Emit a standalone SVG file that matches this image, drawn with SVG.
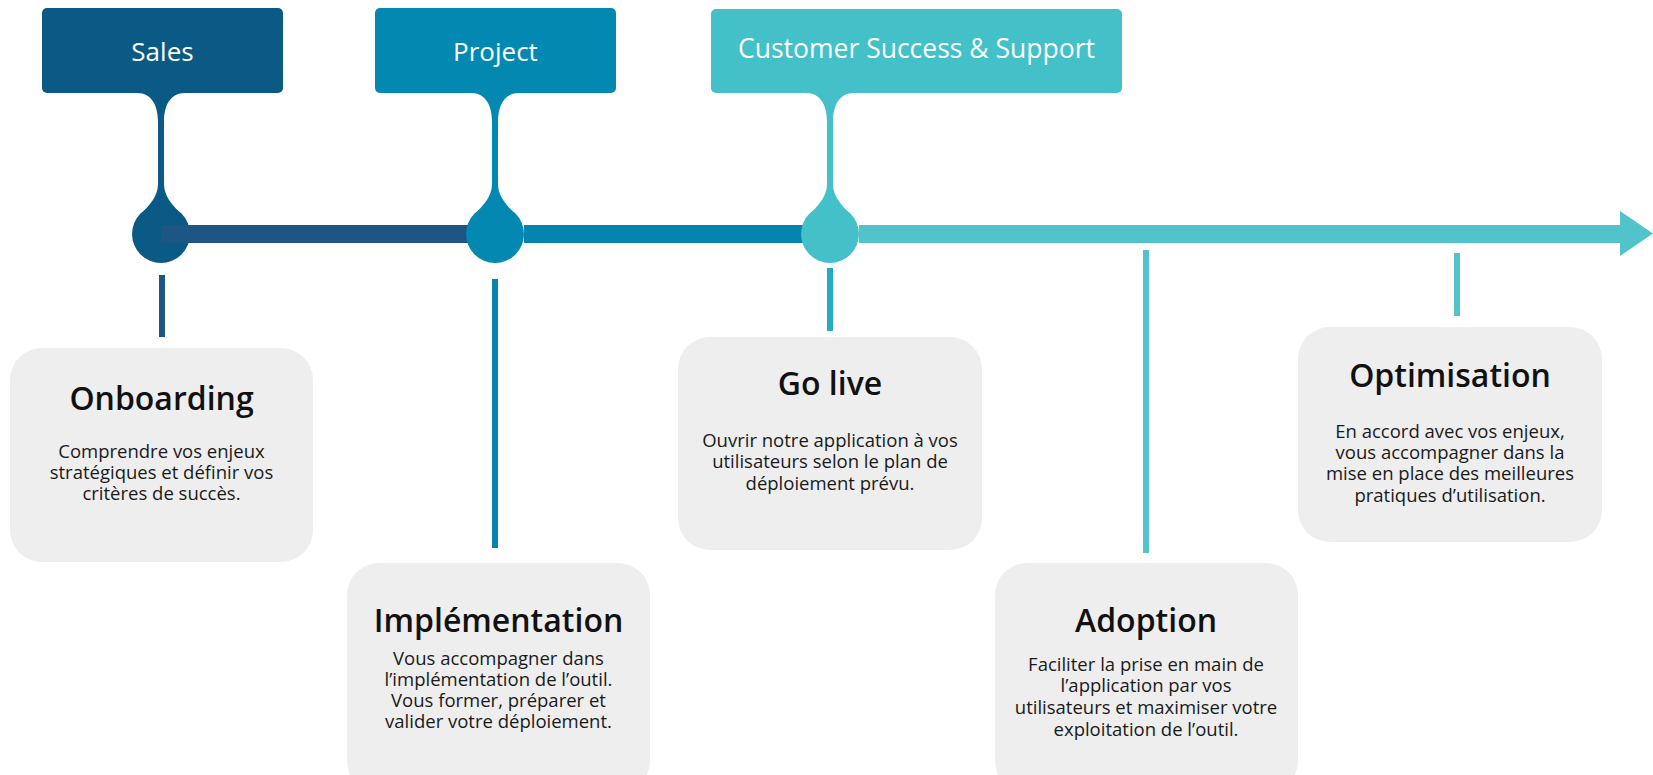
<svg xmlns="http://www.w3.org/2000/svg" width="1653" height="775" viewBox="0 0 1653 775">
<style>
.hdr{font-family:"Open Sans","Noto Sans",sans-serif;font-size:26px;fill:#ffffff;text-anchor:middle}
.card{fill:#eeeeee}
.ttl{font-family:"Open Sans","Noto Sans",sans-serif;font-size:32px;font-weight:600;fill:#111111;text-anchor:middle}
.body{font-family:"Open Sans","Noto Sans",sans-serif;font-size:18.5px;fill:#1a1a1a;text-anchor:middle}
</style>
<defs>
<path id="stem" d="M -24,93 C -9,93 -3,106 -3,122 L -3,184 C -3,196 -11,204 -17,211 L -17,234 L 17,234 L 17,211 C 11,204 3,196 3,184 L 3,122 C 3,106 9,93 24,93 Z"/>
</defs>
<rect width="1653" height="775" fill="#ffffff"/>

<g id="sales">
<rect x="42" y="8" width="241" height="85" rx="5" fill="#0b5985"/>
<text class="hdr" x="162.5" y="61">Sales</text>
<use href="#stem" x="161" fill="#0b5985"/>
<circle cx="161" cy="234" r="29" fill="#0b5985"/>
</g>

<g id="connectors">
<rect x="161" y="225" width="320" height="18" fill="#1d5585"/>
</g>

<g id="project">
<rect x="375" y="8" width="241" height="85" rx="5" fill="#0389b1"/>
<text class="hdr" x="495.5" y="61">Project</text>
<use href="#stem" x="495" fill="#0389b1"/>
<circle cx="495" cy="234" r="29" fill="#0389b1"/>
</g>

<g id="connectors2">
<rect x="524" y="225" width="292" height="18" fill="#0585ae"/>
</g>

<g id="cs">
<rect x="711" y="9" width="411" height="84" rx="5" fill="#44c0c9"/>
<text class="hdr" x="916.5" y="58" style="font-size:26.5px">Customer Success &amp; Support</text>
<use href="#stem" x="830" fill="#44c0c9"/>
<circle cx="830" cy="234" r="29" fill="#44c0c9"/>
</g>

<g id="connectors3">
<rect x="859" y="225" width="762" height="18" fill="#52c3cb"/>
<polygon points="1620,211 1653,233.5 1620,256" fill="#52c3cb"/>
<rect x="159" y="275" width="6" height="62" fill="#1d5585"/>
<rect x="492" y="279" width="6" height="269" fill="#0585ae"/>
<rect x="827" y="268" width="6" height="63" fill="#25abc3"/>
<rect x="1143" y="250" width="6" height="303" fill="#52c3cb"/>
<rect x="1454" y="253" width="6" height="63" fill="#52c3cb"/>
</g>

<g id="onboarding">
<rect class="card" x="10" y="348" width="303" height="214" rx="32"/>
<text class="ttl" x="161.5" y="410">Onboarding</text>
<text class="body" x="161.5" y="458">Comprendre vos enjeux</text>
<text class="body" x="161.5" y="479">stratégiques et définir vos</text>
<text class="body" x="161.5" y="500">critères de succès.</text>
</g>

<g id="implementation">
<rect class="card" x="347" y="563" width="303" height="230" rx="32"/>
<text class="ttl" x="498.5" y="632">Implémentation</text>
<text class="body" x="498.5" y="665">Vous accompagner dans</text>
<text class="body" x="498.5" y="686">l’implémentation de l’outil.</text>
<text class="body" x="498.5" y="707">Vous former, préparer et</text>
<text class="body" x="498.5" y="728">valider votre déploiement.</text>
</g>

<g id="golive">
<rect class="card" x="678" y="337" width="304" height="213" rx="32"/>
<text class="ttl" x="830" y="395">Go live</text>
<text class="body" x="830" y="447">Ouvrir notre application à vos</text>
<text class="body" x="830" y="468">utilisateurs selon le plan de</text>
<text class="body" x="830" y="490">déploiement prévu.</text>
</g>

<g id="adoption">
<rect class="card" x="995" y="563" width="303" height="230" rx="32"/>
<text class="ttl" x="1146" y="632">Adoption</text>
<text class="body" x="1146" y="671">Faciliter la prise en main de</text>
<text class="body" x="1146" y="692">l’application par vos</text>
<text class="body" x="1146" y="714">utilisateurs et maximiser votre</text>
<text class="body" x="1146" y="736">exploitation de l’outil.</text>
</g>

<g id="optimisation">
<rect class="card" x="1298" y="327" width="304" height="215" rx="32"/>
<text class="ttl" x="1450" y="387">Optimisation</text>
<text class="body" x="1450" y="438">En accord avec vos enjeux,</text>
<text class="body" x="1450" y="459">vous accompagner dans la</text>
<text class="body" x="1450" y="480">mise en place des meilleures</text>
<text class="body" x="1450" y="502">pratiques d’utilisation.</text>
</g>
</svg>
